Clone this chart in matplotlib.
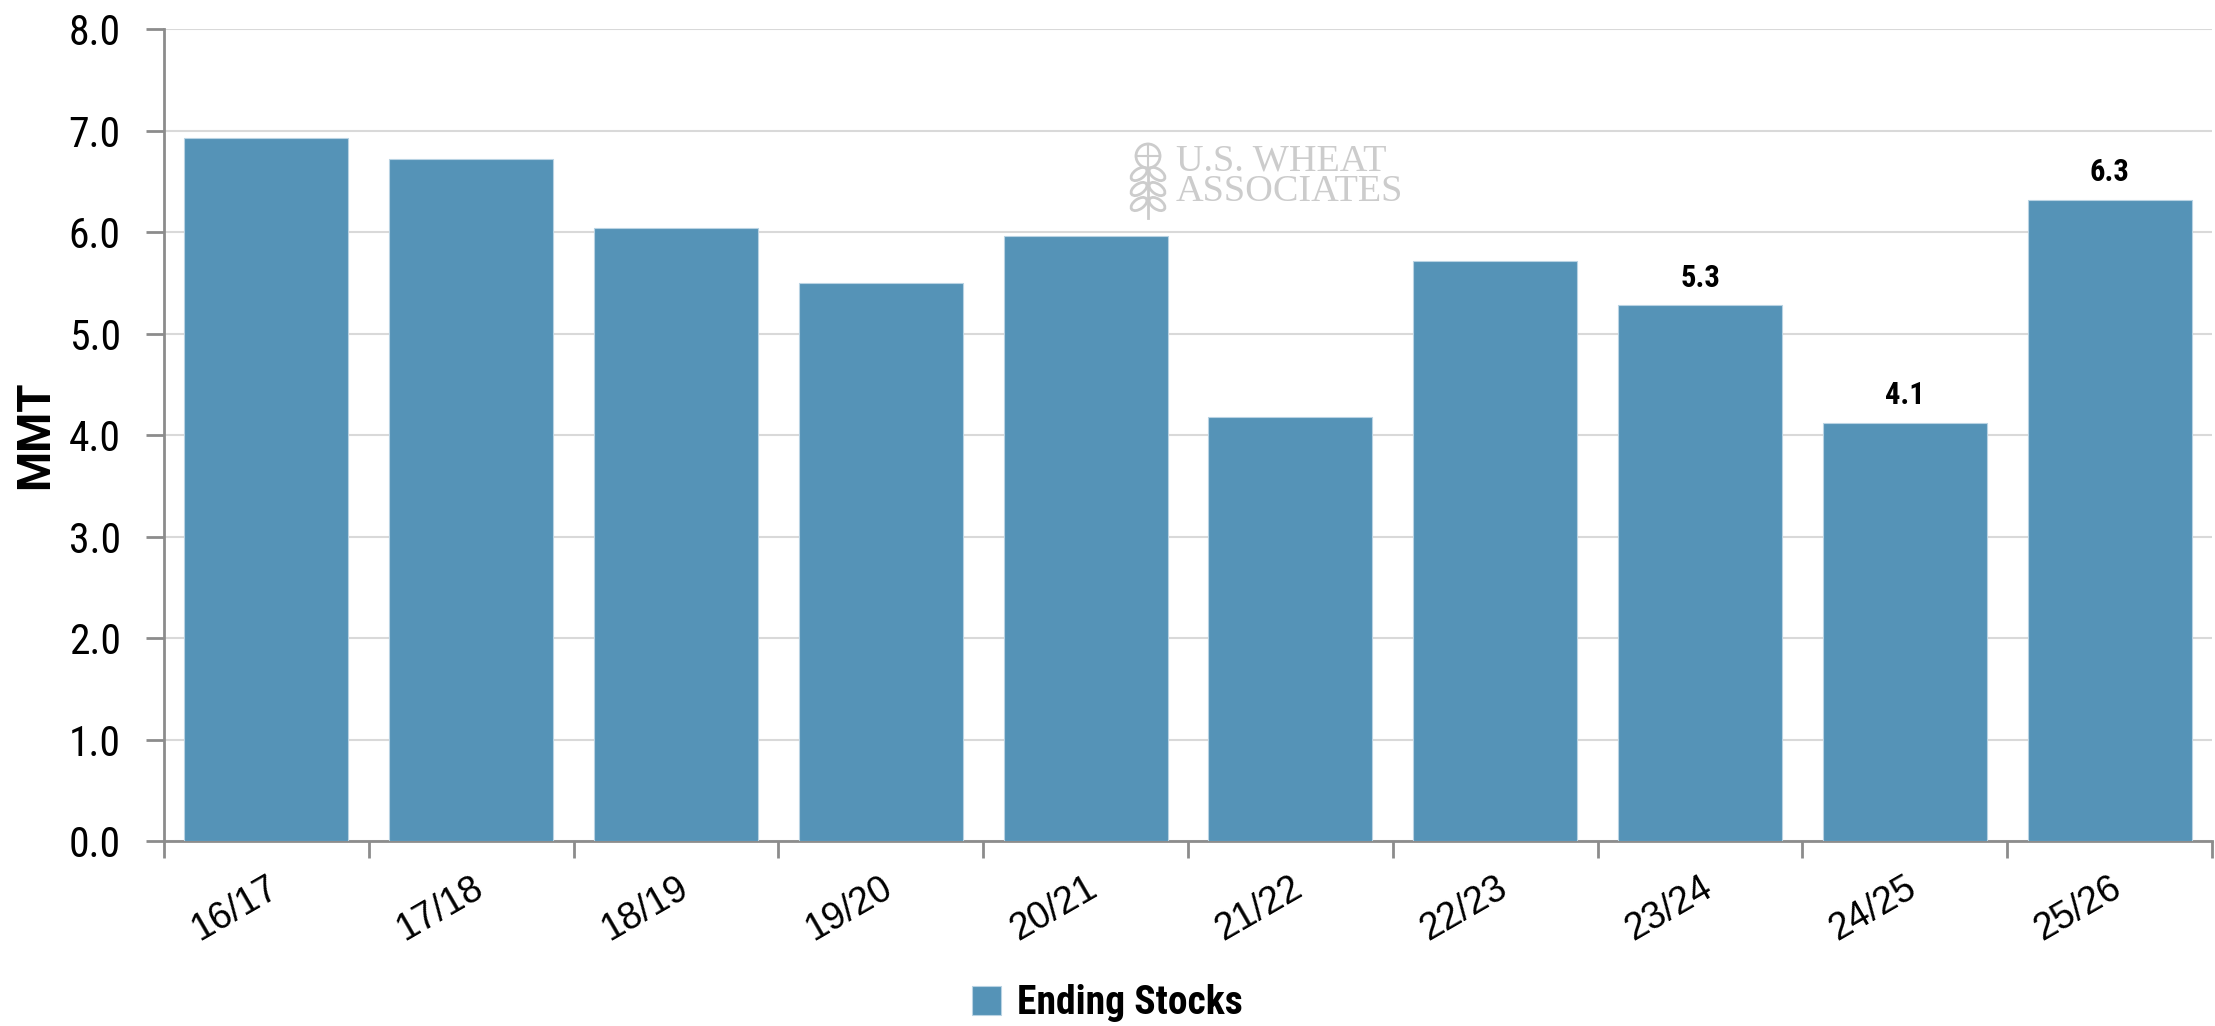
import matplotlib
matplotlib.use("Agg")
import matplotlib.pyplot as plt
from matplotlib.patches import Circle, Ellipse
import numpy as np

categories = ["16/17", "17/18", "18/19", "19/20", "20/21", "21/22", "22/23", "23/24", "24/25", "25/26"]
ending_stocks = [6.93, 6.72, 6.04, 5.50, 5.96, 4.18, 5.71, 5.28, 4.12, 6.32]
labelled = {7: "5.3", 8: "4.1", 9: "6.3"}
y_ticks = [0, 1, 2, 3, 4, 5, 6, 7, 8]

plt.rcParams['font.family'] = ['Roboto Condensed', 'Roboto', 'DejaVu Sans']

fig = plt.figure(figsize=(22.15, 10.26), dpi=100)
ax = fig.add_axes([0.0740, 0.1803, 0.9247, 0.7914])

x = np.arange(len(categories))
bars = ax.bar(x, ending_stocks, width=0.8, color='#5593b7', edgecolor='#b9d3e3', linewidth=0.8,
              label='Ending Stocks', zorder=3)

ax.set_xlim(-0.5, len(categories) - 0.5)
ax.set_ylim(0, 8)
ax.set_yticks(y_ticks)
ax.set_yticklabels([f"{v:.1f}" for v in y_ticks], fontsize=30)
ax.grid(axis='y', color='#d9d9d9', linewidth=1.5, zorder=0)

ax.set_xticks(np.arange(len(categories) + 1) - 0.5)
ax.set_xticklabels([])
ax.set_xticks(x, minor=True)
labels = ax.set_xticklabels(categories, minor=True, rotation=30, ha='right', va='top', fontsize=27,
                            family=['Liberation Sans', 'DejaVu Sans'])
for lab in labels:
    lab.set_rotation_mode('anchor')
ax.tick_params(axis='x', which='minor', length=0, pad=21)
ax.tick_params(axis='x', which='major', length=12, width=2, color='#8c8c8c')
ax.tick_params(axis='y', length=13, width=2, color='#8c8c8c', pad=18)

for s in ['top', 'right']:
    ax.spines[s].set_visible(False)
for s in ['left', 'bottom']:
    ax.spines[s].set_color('#8c8c8c')
    ax.spines[s].set_linewidth(2)

for i, txt in labelled.items():
    ax.annotate(txt, (x[i], ending_stocks[i]), xytext=(0, 9), textcoords='offset points',
                ha='center', va='bottom', fontsize=22, fontweight='bold')

ax.set_ylabel('MMT', fontsize=33, fontweight='bold', labelpad=8,
              family=['Roboto', 'DejaVu Sans'])

# watermark
wm_color = '#cccccc'
fig.text(1176 / 2215, 1 - 144 / 1026, "U.S. WHEAT\nASSOCIATES", fontsize=27.5, color=wm_color,
         family=['Liberation Serif'], ha='left', va='top', linespacing=0.86,
         multialignment='left', zorder=1)
icon = fig.add_axes([1126 / 2215, 1 - 220 / 1026, 44 / 2215, 78 / 1026])
icon.set_xlim(0, 44)
icon.set_ylim(0, 78)
icon.axis('off')
icon.add_patch(Circle((22, 64), 12, fill=False, ec=wm_color, lw=2))
icon.plot([22, 22], [52, 76], color=wm_color, lw=1.5)
icon.plot([10, 34], [64, 64], color=wm_color, lw=1.5)
for yy in [46, 31, 16]:
    icon.add_patch(Ellipse((13, yy), 18, 10, angle=35, fill=False, ec=wm_color, lw=2))
    icon.add_patch(Ellipse((31, yy), 18, 10, angle=-35, fill=False, ec=wm_color, lw=2))
icon.plot([22, 22], [2, 52], color=wm_color, lw=2)

fig.legend(handles=[bars], labels=['Ending Stocks'], loc='center', bbox_to_anchor=(0.5, 0.022),
           frameon=False, prop={'weight': 'bold', 'size': 28.5},
           handlelength=0.72, handleheight=0.72, handletextpad=0.4)

fig.savefig("out.png", dpi=100)
